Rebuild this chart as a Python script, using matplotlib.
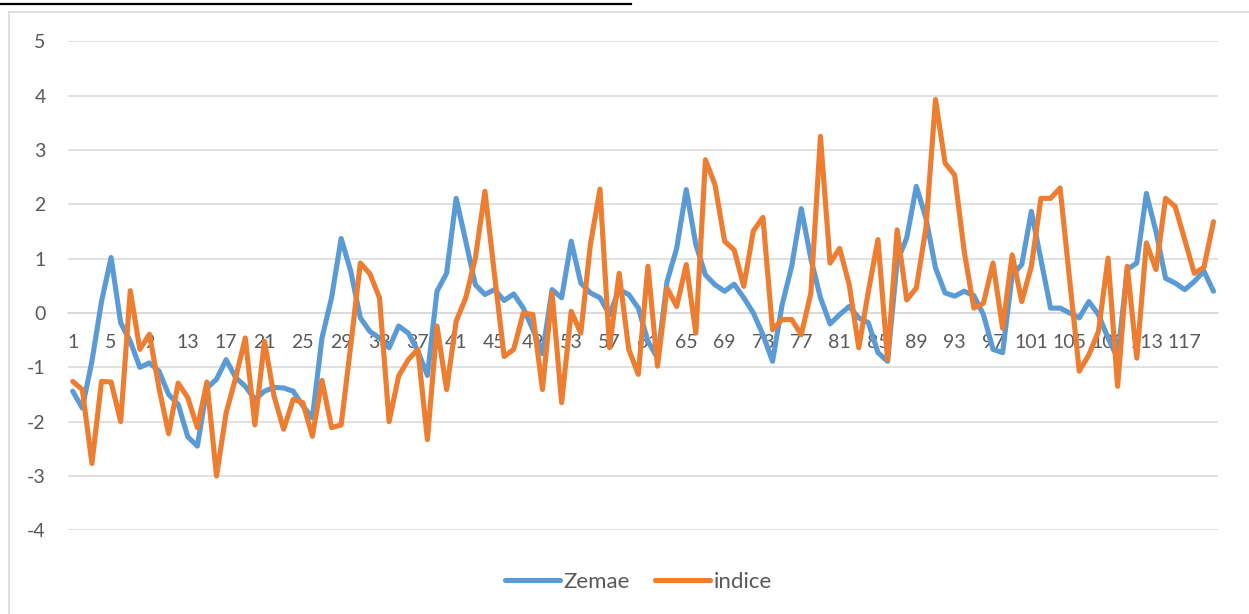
import matplotlib.pyplot as plt
from matplotlib.lines import Line2D
import numpy as np

zemae = [-1.44, -1.75, -0.89, 0.21, 1.02, -0.18, -0.52, -1.0, -0.92, -1.07,
         -1.5, -1.68, -2.28, -2.45, -1.38, -1.22, -0.86, -1.19, -1.35, -1.59,
         -1.44, -1.37, -1.38, -1.44, -1.71, -1.93, -0.46, 0.28, 1.37, 0.77,
         -0.09, -0.34, -0.46, -0.64, -0.24, -0.37, -0.7, -1.15, 0.40, 0.73,
         2.11, 1.32, 0.52, 0.34, 0.43, 0.23, 0.35, 0.09, -0.3, -0.75,
         0.43, 0.28, 1.32, 0.55, 0.37, 0.28, -0.03, 0.43, 0.34, 0.09,
         -0.52, -0.83, 0.58, 1.19, 2.27, 1.26, 0.70, 0.52, 0.40, 0.53,
         0.28, 0.0, -0.4, -0.89, 0.15, 0.86, 1.92, 1.0, 0.28, -0.2,
         -0.03, 0.12, -0.09, -0.18, -0.73, -0.89, 0.95, 1.38, 2.33, 1.75,
         0.83, 0.37, 0.31, 0.40, 0.32, -0.03, -0.67, -0.73, 0.70, 0.89,
         1.87, 0.98, 0.09, 0.09, 0.0, -0.09, 0.21, -0.03, -0.46, -0.83,
         0.80, 0.92, 2.20, 1.50, 0.64, 0.55, 0.43, 0.58, 0.77, 0.40]

indice = [-1.26, -1.41, -2.77, -1.26, -1.27, -2.0, 0.41, -0.67, -0.39, -1.38,
          -2.22, -1.29, -1.56, -2.11, -1.27, -3.0, -1.84, -1.19, -0.46, -2.06,
          -0.52, -1.53, -2.14, -1.59, -1.65, -2.27, -1.24, -2.11, -2.06, -0.6,
          0.92, 0.72, 0.28, -2.0, -1.16, -0.86, -0.67, -2.33, -0.24, -1.41,
          -0.15, 0.28, 1.01, 2.24, 0.7, -0.8, -0.67, 0.0, -0.03, -1.41,
          0.37, -1.65, 0.03, -0.37, 1.26, 2.28, -0.64, 0.73, -0.67, -1.13,
          0.86, -0.98, 0.46, 0.12, 0.89, -0.37, 2.82, 2.36, 1.32, 1.16,
          0.49, 1.51, 1.76, -0.31, -0.12, -0.12, -0.4, 0.37, 3.25, 0.92,
          1.19, 0.52, -0.64, 0.40, 1.35, -0.86, 1.53, 0.24, 0.46, 1.56,
          3.93, 2.76, 2.54, 1.13, 0.09, 0.18, 0.92, -0.28, 1.07, 0.21,
          0.86, 2.11, 2.11, 2.30, 0.6, -1.07, -0.77, -0.34, 1.01, -1.35,
          0.86, -0.83, 1.29, 0.80, 2.11, 1.96, 1.35, 0.73, 0.84, 1.68]

x = np.arange(1, len(zemae) + 1)
x_ticks = list(range(1, len(zemae) + 1, 4))

plt.rcParams['font.family'] = ['Lato', 'DejaVu Sans']
plt.rcParams['axes.unicode_minus'] = False

fig = plt.figure(figsize=(12.49, 6.14), dpi=100)
ax = fig.add_axes([0.0544, 0.1363, 0.921, 0.7964])

ax.plot(x, zemae, color='#5B9BD5', lw=3.7, solid_capstyle='round',
        solid_joinstyle='round', label='Zemae', zorder=3)
ax.plot(x, indice, color='#ED7D31', lw=3.7, solid_capstyle='round',
        solid_joinstyle='round', label='indice', zorder=4)

ax.set_xlim(0.5, len(zemae) + 0.5)
ax.set_ylim(-4, 5)
ax.set_yticks(range(-4, 6))
ax.set_xticks(x_ticks)
ax.grid(axis='y', color='#D9D9D9', lw=1.1)
ax.set_axisbelow(True)

for s in ['top', 'right', 'left']:
    ax.spines[s].set_visible(False)
ax.spines['bottom'].set_position(('data', 0))
ax.spines['bottom'].set_color('#D9D9D9')
ax.spines['bottom'].set_linewidth(1.1)

ax.tick_params(axis='x', length=0, pad=15, labelsize=14, labelcolor='#595959')
ax.tick_params(axis='y', length=0, pad=16, labelsize=14, labelcolor='#595959')

fig.legend(loc='center', bbox_to_anchor=(0.511, 0.052), ncol=2, frameon=False,
           fontsize=16, handlelength=2.5, handletextpad=0.15, columnspacing=1.1,
           labelcolor='#595959')

# chart frame and the underline above it
fig.add_artist(Line2D([9 / 1249, 9 / 1249], [0, 1 - 12 / 614], color='#D9D9D9', lw=1.2))
fig.add_artist(Line2D([9 / 1249, 1], [1 - 12 / 614, 1 - 12 / 614], color='#D9D9D9', lw=1.2))
fig.add_artist(Line2D([0, 631 / 1249], [1 - 4 / 614, 1 - 4 / 614], color='black', lw=1.6))

fig.savefig('out.png', dpi=100)
